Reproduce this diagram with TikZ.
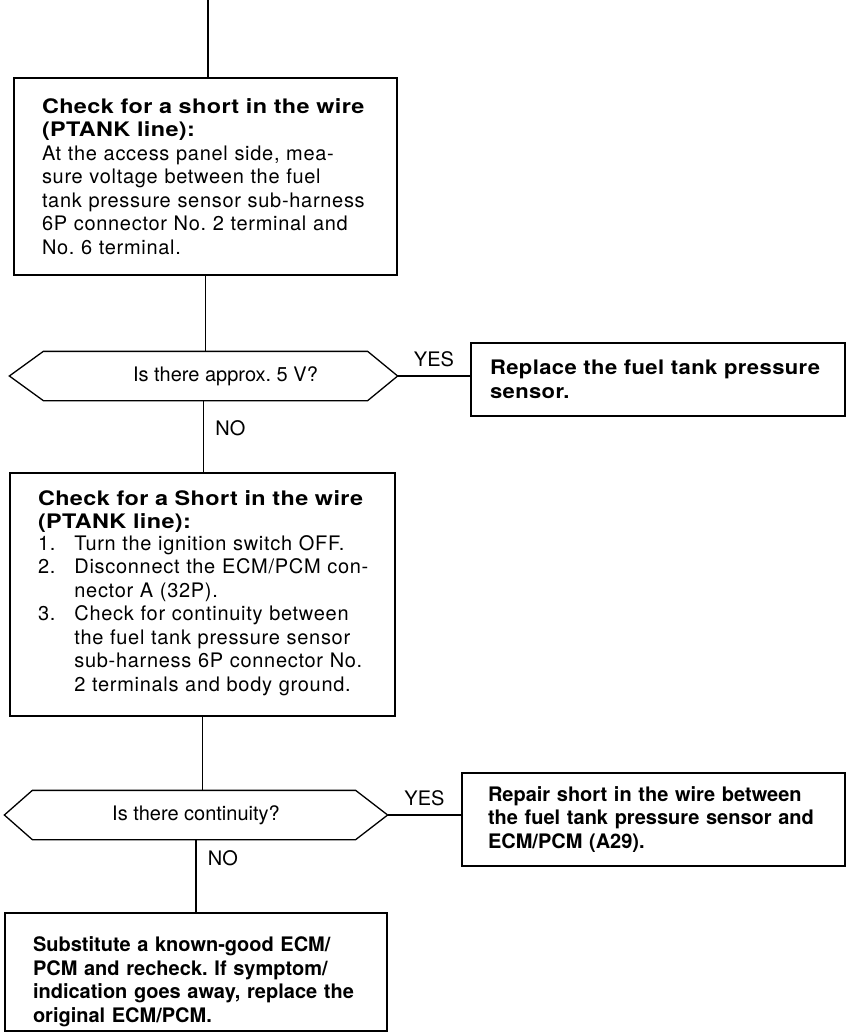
\documentclass[tikz,border=0pt]{standalone}
\usepackage{fontspec}
\setmainfont{TeX Gyre Heros}
\usetikzlibrary{positioning}

\newcommand{\headtxt}{\bfseries\addfontfeatures{FakeStretch=1.17,LetterSpace=2}}
\newcommand{\bodytxt}{\addfontfeatures{LetterSpace=3.5}}
\frenchspacing

\begin{document}
\begin{tikzpicture}[x=1pt,y=-1pt,line width=1.3pt,
  every node/.style={font=\fontsize{20}{23.5}\selectfont},
  box/.style={draw,rectangle,align=left,inner xsep=28pt,inner ysep=0pt},
  decision/.style={rectangle,inner sep=0pt,minimum height=48pt}]
\useasboundingbox (0,0) rectangle (846,1033);

% first check
\coordinate (top) at (208,0);
\node[box,minimum width=383pt,minimum height=197pt,text width=327pt] (chkA) at (205.5,176.5)
  {{\headtxt Check for a short in the wire\\(PTANK line):}\\
   {\bodytxt At the access panel side, mea-\\sure voltage between the fuel\\
   tank pressure sensor sub-harness\\6P connector No. 2 terminal and\\No. 6 terminal.}};

\node[decision,minimum width=387pt,label={[xshift=22pt]center:Is there approx. 5 V?}] (qA) at (203.5,376) {};
\node[box,inner xsep=19pt,minimum width=374pt,minimum height=73pt,text width=336pt] (fixA) at (658,379.5)
  {\bfseries\addfontfeatures{FakeStretch=1.1,LetterSpace=2}Replace the fuel tank pressure\\sensor.};

% second check
\node[box,minimum width=385pt,minimum height=243pt,text width=329pt] (chkB) at (202.5,594.5)
  {{\headtxt Check for a Short in the wire\\(PTANK line):}\\
   \bodytxt
   \begin{tabular}{@{}l@{\hspace{19pt}}l@{}}
   1. & Turn the ignition switch OFF.\\
   2. & Disconnect the ECM/PCM con-\\
      & nector A (32P).\\
   3. & Check for continuity between\\
      & the fuel tank pressure sensor\\
      & sub-harness 6P connector No.\\
      & 2 terminals and body ground.
   \end{tabular}};

\node[decision,minimum width=382pt,label={center:Is there continuity?}] (qB) at (196,815) {};
\node[box,inner xsep=26pt,minimum width=383pt,minimum height=93pt,text width=331pt] (fixB) at (653.5,819.5)
  {\bfseries Repair short in the wire between\\the fuel tank pressure sensor and\\ECM/PCM (A29).};

\node[box,inner xsep=28pt,minimum width=382pt,minimum height=118pt,text width=326pt] (subst) at (196,972)
  {\bfseries\rule{0pt}{34pt}Substitute a known-good ECM/\\PCM and recheck. If symptom/\\
   indication goes away, replace the\\original ECM/PCM.};

% hexagons
\draw (qA.west) -- ([xshift=34pt]qA.north west) -- ([xshift=-30pt]qA.north east) -- (qA.east)
  -- ([xshift=-30pt]qA.south east) -- ([xshift=34pt]qA.south west) -- cycle;
\draw (qB.west) -- ([xshift=28pt]qB.north west) -- ([xshift=-32pt]qB.north east) -- (qB.east)
  -- ([xshift=-32pt]qB.south east) -- ([xshift=28pt]qB.south west) -- cycle;

% connectors
\draw (top) -- (top |- chkA.north);
\draw (chkA.south) -- (chkA.south |- qA.north);
\draw (qA.east) -- (qA.east -| fixA.west) node[midway,above=5pt] (yesA) {YES};
\draw (qA.south) -- (qA.south |- chkB.north) node[pos=.38,right=8pt] (noA) {NO};
\draw (chkB.south) -- (chkB.south |- qB.north);
\draw (qB.east) -- (qB.east -| fixB.west) node[midway,above=5pt] (yesB) {YES};
\draw (qB.south) -- (qB.south |- subst.north) node[pos=.25,right=8pt] (noB) {NO};

\end{tikzpicture}
\end{document}
